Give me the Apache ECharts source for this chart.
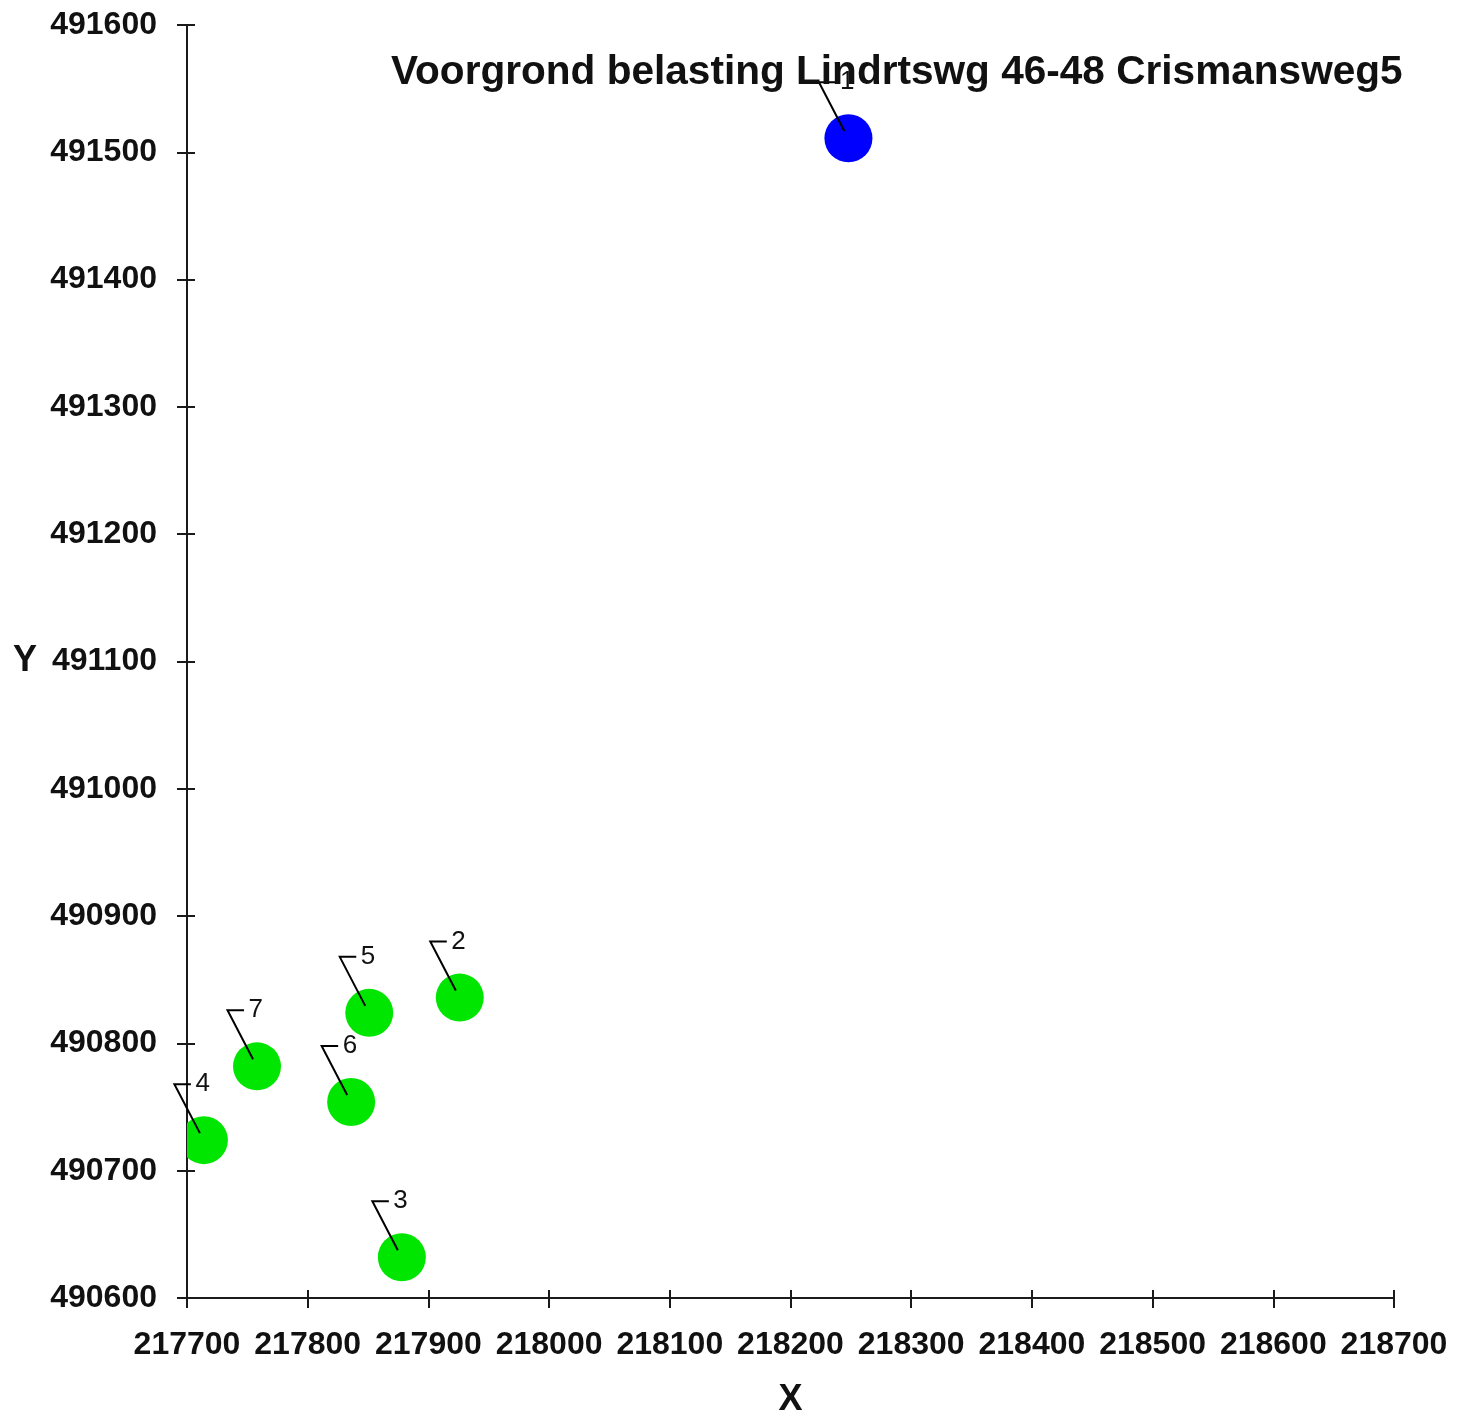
<!DOCTYPE html>
<html><head><meta charset="utf-8">
<script src="https://cdn.jsdelivr.net/npm/echarts@6/dist/echarts.min.js"></script>
<style>html,body{margin:0;padding:0;background:#fff}#chart{width:1468px;height:1423px}</style>
</head><body><div id="chart"></div>
<script>
// ---- data ----
const titleText = 'Voorgrond belasting Lindrtswg 46-48 Crismansweg5';
const pointIds = ['1', '2', '3', '4', '5', '6', '7'];
const pointX = [218248, 217926, 217878, 217714, 217851, 217836, 217758];
const pointY = [491511, 490836, 490632, 490724, 490824, 490754, 490782];
const pointKind = ['bron', 'ontvanger', 'ontvanger', 'ontvanger', 'ontvanger', 'ontvanger', 'ontvanger'];
const xAxisMin = 217700, xAxisMax = 218700, xAxisStep = 100;
const yAxisMin = 490600, yAxisMax = 491600, yAxisStep = 100;
const xAxisName = 'X';
const yAxisName = 'Y';

// ---- style ----
const FONT = "'Liberation Sans', Arial, sans-serif";
const kindColor = { bron: '#0000ff', ontvanger: '#00e600' };
const axisColor = '#1a1a1a';

const seriesData = pointIds.map((id, i) => [pointX[i], pointY[i], id, pointKind[i]]);

function mainAxis(kind) {
  const isX = kind === 'x';
  return {
    type: 'value',
    min: isX ? xAxisMin : yAxisMin,
    max: isX ? xAxisMax : yAxisMax,
    interval: isX ? xAxisStep : yAxisStep,
    position: isX ? 'bottom' : 'left',
    name: isX ? xAxisName : yAxisName,
    nameLocation: 'middle',
    nameRotate: 0,
    nameGap: isX ? 84 : 150,
    nameTextStyle: { fontFamily: FONT, fontWeight: 'bold', fontSize: 36, color: '#111' },
    axisLine: { show: true, onZero: false, lineStyle: { color: axisColor, width: 2 } },
    axisTick: { show: true, inside: false, length: 10, lineStyle: { color: axisColor, width: 2 } },
    axisLabel: { show: true, margin: isX ? 31 : 30, fontFamily: FONT, fontWeight: 'bold', fontSize: 32, color: '#111',
      formatter: function (v) { return String(v); } },
    splitLine: { show: false }
  };
}
function innerTickAxis(kind) {
  const isX = kind === 'x';
  return {
    type: 'value',
    min: isX ? xAxisMin : yAxisMin,
    max: isX ? xAxisMax : yAxisMax,
    interval: isX ? xAxisStep : yAxisStep,
    position: isX ? 'bottom' : 'left',
    axisLine: { show: false, onZero: false },
    axisTick: { show: true, inside: true, length: 8, lineStyle: { color: axisColor, width: 2 } },
    axisLabel: { show: false },
    splitLine: { show: false }
  };
}

const chart = echarts.init(document.getElementById('chart'), null, { renderer: 'canvas' });
chart.setOption({
  backgroundColor: '#ffffff',
  animation: false,
  title: {
    text: titleText,
    left: 391, top: 52, padding: 0,
    textStyle: { fontFamily: FONT, fontWeight: 'bold', fontSize: 40.6, color: '#111' }
  },
  grid: { left: 187, right: 74, top: 25, bottom: 124, containLabel: false },
  xAxis: [mainAxis('x'), innerTickAxis('x')],
  yAxis: [mainAxis('y'), innerTickAxis('y')],
  series: [
    {
      name: 'punten',
      type: 'custom',
      clip: true,
      data: seriesData,
      encode: { x: 0, y: 1 },
      z: 3,
      renderItem: function (params, api) {
        const c = api.coord([api.value(0), api.value(1)]);
        const kind = seriesData[params.dataIndex][3];
        return { type: 'circle', shape: { cx: c[0], cy: c[1], r: 24 }, style: { fill: kindColor[kind] } };
      }
    },
    {
      name: 'labels',
      type: 'custom',
      clip: false,
      data: seriesData,
      encode: { x: 0, y: 1 },
      z: 4,
      renderItem: function (params, api) {
        const c = api.coord([api.value(0), api.value(1)]);
        const id = seriesData[params.dataIndex][2];
        return {
          type: 'group',
          children: [
            { type: 'polyline', shape: { points: [[c[0] - 4, c[1] - 7], [c[0] - 29.5, c[1] - 56], [c[0] - 13, c[1] - 56]] },
              style: { stroke: '#000', lineWidth: 2, fill: null } },
            { type: 'text', x: c[0] - 8.5, y: c[1] - 56,
              style: { text: id, fontFamily: FONT, fontSize: 26, fill: '#111', align: 'left', verticalAlign: 'middle' } }
          ]
        };
      }
    }
  ]
});
</script>
</body></html>
